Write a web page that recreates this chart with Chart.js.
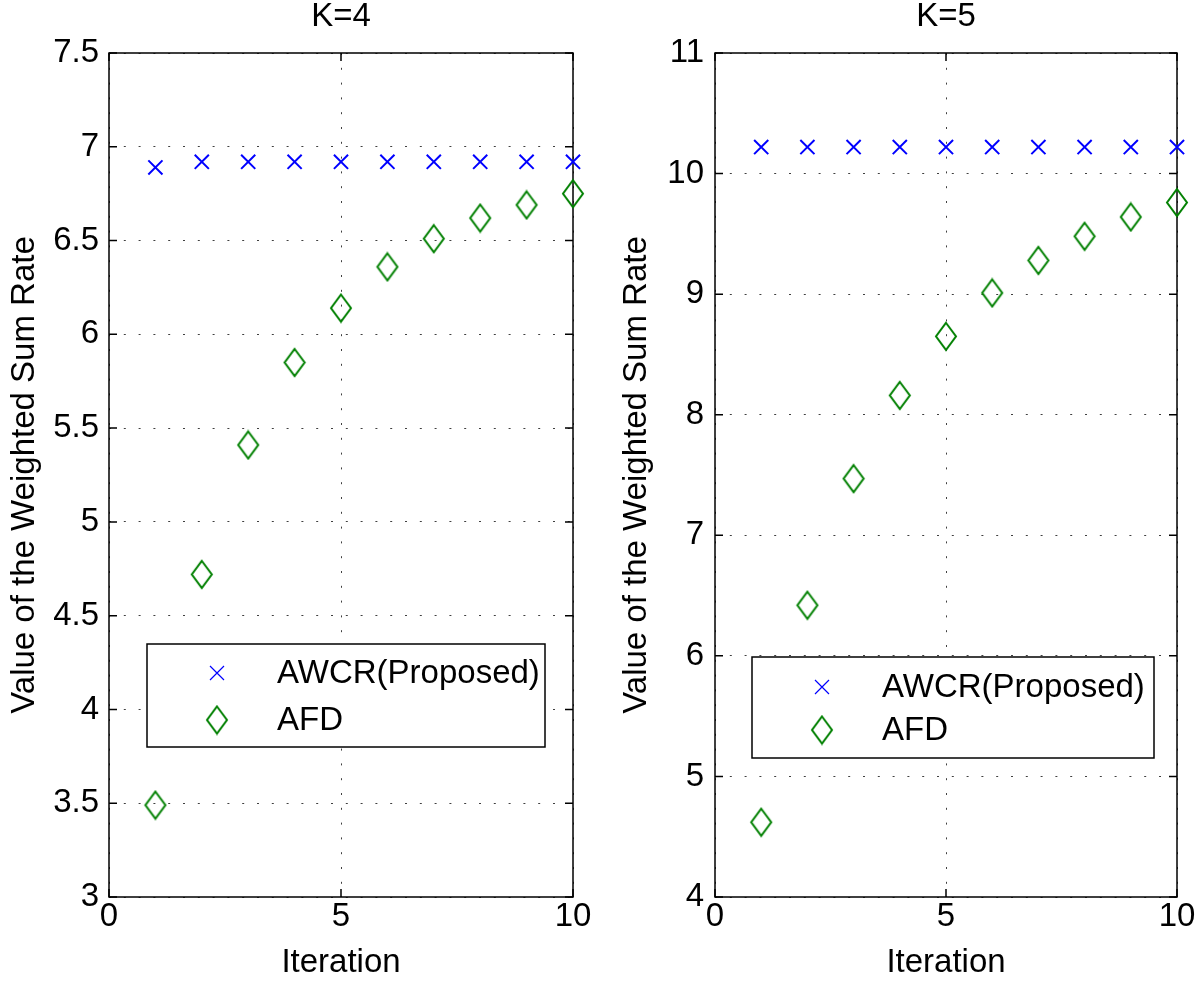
<html>
  <head>
    <script src="https://cdn.jsdelivr.net/npm/chart.js@4.4.0/dist/chart.umd.min.js"></script>
    <title>AWCR vs AFD</title>
    <style>
      body { margin: 0; background: #fff; }
      canvas { position: absolute; top: 0; }
    </style>
  </head>
  <body>
<canvas id="chartK4" width="600" height="981" style="left:0"></canvas>
<canvas id="chartK5" width="600" height="981" style="left:600px"></canvas>

    <script>
// data
const iterations = [1, 2, 3, 4, 5, 6, 7, 8, 9, 10];
const awcrK4 = [6.89, 6.92, 6.92, 6.92, 6.92, 6.92, 6.92, 6.92, 6.92, 6.92];
const afdK4 = [3.49, 4.72, 5.41, 5.85, 6.14, 6.36, 6.51, 6.62, 6.69, 6.75];
const awcrK5 = [10.22, 10.22, 10.22, 10.22, 10.22, 10.22, 10.22, 10.22, 10.22, 10.22];
const afdK5 = [4.62, 6.42, 7.47, 8.16, 8.65, 9.01, 9.28, 9.48, 9.64, 9.76];
const xTicks = [0, 5, 10];
const yTicksK4 = [3, 3.5, 4, 4.5, 5, 5.5, 6, 6.5, 7, 7.5];
const yTicksK5 = [4, 5, 6, 7, 8, 9, 10, 11];
const seriesNames = ['AWCR(Proposed)', 'AFD'];
const titles = ['K=4', 'K=5'];

const FONT = '"Liberation Sans", Arial, Helvetica, sans-serif';
const FSIZE = 33;
const BLUE = '#0000ff';
const GREEN = '#008000';

// matlab style diamond (taller than wide)
function diamond(w, h, lw) {
  const c = document.createElement('canvas');
  c.width = w + 4; c.height = h + 4;
  const g = c.getContext('2d');
  g.strokeStyle = GREEN;
  g.lineWidth = lw;
  g.beginPath();
  g.moveTo(c.width / 2, 2);
  g.lineTo(c.width - 2, c.height / 2);
  g.lineTo(c.width / 2, c.height - 2);
  g.lineTo(2, c.height / 2);
  g.closePath();
  g.stroke();
  return c;
}
const diamondImg = diamond(20, 27, 2);

// box + inward ticks + title, like matlab axes
const boxPlugin = {
  id: 'box',
  beforeDatasetsDraw(chart, args, opts) {
    const { ctx, chartArea: a, scales } = chart;
    ctx.save();
    ctx.strokeStyle = '#000';
    ctx.lineWidth = 1.5;
    ctx.strokeRect(a.left, a.top, a.right - a.left, a.bottom - a.top);
    ctx.beginPath();
    scales.y.ticks.forEach(t => {
      const py = scales.y.getPixelForValue(t.value);
      ctx.moveTo(a.left, py); ctx.lineTo(a.left + 8, py);
      ctx.moveTo(a.right, py); ctx.lineTo(a.right - 8, py);
    });
    scales.x.ticks.forEach(t => {
      const px = scales.x.getPixelForValue(t.value);
      ctx.moveTo(px, a.bottom); ctx.lineTo(px, a.bottom - 8);
      ctx.moveTo(px, a.top); ctx.lineTo(px, a.top + 8);
    });
    ctx.stroke();
    ctx.fillStyle = '#000';
    ctx.font = FSIZE + 'px ' + FONT;
    ctx.textAlign = 'center';
    ctx.textBaseline = 'middle';
    ctx.fillText(opts.text, (a.left + a.right) / 2, 17);
    ctx.restore();
  }
};

// legend box inside the plot
const legendPlugin = {
  id: 'boxLegend',
  afterDatasetsDraw(chart, args, opts) {
    const ctx = chart.ctx;
    const a = chart.chartArea;
    const x0 = a.left + opts.left, y0 = opts.top;
    ctx.save();
    ctx.fillStyle = '#fff';
    ctx.fillRect(x0, y0, opts.width, opts.height);
    ctx.strokeStyle = '#000';
    ctx.lineWidth = 1.5;
    ctx.strokeRect(x0, y0, opts.width, opts.height);
    ctx.font = FSIZE + 'px ' + FONT;
    ctx.fillStyle = '#000';
    ctx.textBaseline = 'middle';
    chart.data.datasets.forEach((ds, i) => {
      const cy = y0 + opts.rowTop + i * opts.rowGap;
      const mx = x0 + opts.markerX;
      if (i === 0) {
        ctx.strokeStyle = BLUE;
        ctx.lineWidth = 1.2;
        ctx.beginPath();
        ctx.moveTo(mx - 7, cy - 7); ctx.lineTo(mx + 7, cy + 7);
        ctx.moveTo(mx + 7, cy - 7); ctx.lineTo(mx - 7, cy + 7);
        ctx.stroke();
      } else {
        ctx.drawImage(diamondImg, mx - diamondImg.width / 2, cy - diamondImg.height / 2);
      }
      ctx.fillText(ds.label, x0 + opts.textX, cy + 1);
    });
    ctx.restore();
  }
};

function makeChart(id, title, awcr, afd, yTicks, lay) {
  const yMin = yTicks[0], yMax = yTicks[yTicks.length - 1];
  return new Chart(document.getElementById(id), {
    type: 'scatter',
    data: {
      datasets: [
        {
          label: seriesNames[0],
          data: iterations.map((x, i) => ({ x: x, y: awcr[i] })),
          pointStyle: 'crossRot',
          pointRadius: 10,
          borderColor: BLUE,
          backgroundColor: BLUE,
          borderWidth: 2,
          clip: false
        },
        {
          label: seriesNames[1],
          data: iterations.map((x, i) => ({ x: x, y: afd[i] })),
          pointStyle: diamondImg,
          pointRadius: 12,
          clip: false
        }
      ]
    },
    options: {
      responsive: false,
      animation: false,
      events: [],
      layout: { padding: { left: 0, right: lay.padRight, top: 53, bottom: 0 } },
      plugins: {
        legend: { display: false },
        tooltip: { enabled: false },
        title: { display: false },
        box: { text: title },
        boxLegend: lay.legend
      },
      scales: {
        x: {
          type: 'linear',
          min: 0,
          max: 10,
          afterBuildTicks: s => { s.ticks = xTicks.map(v => ({ value: v })); },
          afterFit: s => { s.height = 84; },
          ticks: { color: '#000', font: { family: FONT, size: FSIZE }, padding: 0, maxRotation: 0 },
          grid: { color: 'rgba(0,0,0,0.75)', lineWidth: 1, drawTicks: false },
          border: { display: false, dash: [2, 12.8] },
          title: {
            display: true,
            text: 'Iteration',
            color: '#000',
            font: { family: FONT, size: FSIZE, lineHeight: 1.1 },
            padding: { top: 0, bottom: 0 }
          }
        },
        y: {
          type: 'linear',
          min: yMin,
          max: yMax,
          afterBuildTicks: s => { s.ticks = yTicks.map(v => ({ value: v })); },
          afterFit: s => { s.width = lay.yWidth; },
          ticks: { color: '#000', font: { family: FONT, size: FSIZE }, padding: lay.tickPad, callback: v => String(v) },
          grid: { color: 'rgba(0,0,0,0.75)', lineWidth: 1, drawTicks: false },
          border: { display: false, dash: [2, 12.8] },
          title: {
            display: true,
            text: 'Value of the Weighted Sum Rate',
            color: '#000',
            font: { family: FONT, size: FSIZE, lineHeight: 1.1 },
            padding: { top: lay.titlePad, bottom: 0 }
          }
        }
      }
    },
    plugins: [boxPlugin, legendPlugin]
  });
}

makeChart('chartK4', titles[0], awcrK4, afdK4, yTicksK4, {
  padRight: 27, yWidth: 109, tickPad: 10, titlePad: 7,
  legend: { left: 38, top: 644, width: 398, height: 103, markerX: 70, textX: 130, rowTop: 29, rowGap: 47 }
});
makeChart('chartK5', titles[1], awcrK5, afdK5, yTicksK5, {
  padRight: 23, yWidth: 115, tickPad: 11, titlePad: 19,
  legend: { left: 37, top: 657, width: 402, height: 101, markerX: 70, textX: 130, rowTop: 30, rowGap: 43 }
});
    </script>
  </body>
</html>
